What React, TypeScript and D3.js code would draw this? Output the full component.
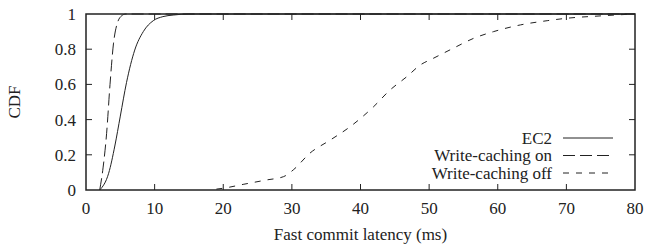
import { curveMonotoneX, line, scaleLinear } from "d3";
import React from "react";

// values
const ec2X = [2.0, 3.3, 4.2, 5.0, 5.9, 7.1, 8.35, 9.8, 11.2, 12.7, 15, 80];
const ec2Y = [0, 0.095, 0.25, 0.42, 0.61, 0.795, 0.9, 0.962, 0.985, 0.994, 1, 1];
const onX = [2.0, 2.5, 3.0, 3.5, 4.0, 4.5, 5.2, 5.8, 80];
const onY = [0, 0.13, 0.32, 0.6, 0.83, 0.94, 0.99, 1, 1];
const offX = [19, 20.0, 22.9, 26.3, 28.8, 30.2, 32.65, 35.6, 38.5, 41.9, 44.3, 46.75, 48.7, 50.6, 53.5, 56.5, 59.4, 63.3, 67.2, 70.1, 74.9, 79.8];
const offY = [0.005, 0.01, 0.032, 0.057, 0.076, 0.114, 0.21, 0.284, 0.36, 0.473, 0.568, 0.644, 0.71, 0.748, 0.805, 0.862, 0.9, 0.938, 0.962, 0.976, 0.989, 1.0];
const xTicks = [0, 10, 20, 30, 40, 50, 60, 70, 80];
const yTicks = [0, 0.2, 0.4, 0.6, 0.8, 1];
const legendNames = ["EC2", "Write-caching on", "Write-caching off"];

const width = 645;
const height = 244;
const margin = { top: 14, right: 10, bottom: 54, left: 86 };
const innerWidth = width - margin.left - margin.right;
const innerHeight = height - margin.top - margin.bottom;
const font = "Liberation Serif";
const fontSize = 17;

const x = scaleLinear().domain([0, 80]).range([0, innerWidth]);
const y = scaleLinear().domain([0, 1]).range([innerHeight, 0]);
const path = line<[number, number]>()
  .x((d) => x(d[0]))
  .y((d) => y(d[1]))
  .curve(curveMonotoneX);

const zip = (a: number[], b: number[]) => a.map((v, i) => [v, b[i]] as [number, number]);
const series = [
  { pts: zip(ec2X, ec2Y), dash: "none" },
  { pts: zip(onX, onY), dash: "12,5" },
  { pts: zip(offX, offY), dash: "6,7" },
];

export default function App() {
  const tick = 6;
  const txt = { fontFamily: font, fontSize };
  return (
    <div style={{ position: "absolute", left: 0, top: 0 }}>
      <svg width={width} height={height} style={{ display: "block", background: "white" }}>
        <g transform={`translate(${margin.left},${margin.top})`} fill="#222">
          {series.map((s, i) => (
            <path key={i} d={path(s.pts) ?? ""} fill="none" stroke="#222" strokeWidth={1} strokeDasharray={s.dash} />
          ))}
          {/* ticks, mirrored on all sides */}
          {xTicks.slice(1, -1).map((t) => (
            <g key={"x" + t} stroke="#222" strokeWidth={1}>
              <line x1={x(t)} x2={x(t)} y1={innerHeight} y2={innerHeight - tick} />
              <line x1={x(t)} x2={x(t)} y1={0} y2={tick} />
            </g>
          ))}
          {yTicks.slice(1, -1).map((t) => (
            <g key={"y" + t} stroke="#222" strokeWidth={1}>
              <line x1={0} x2={tick} y1={y(t)} y2={y(t)} />
              <line x1={innerWidth} x2={innerWidth - tick} y1={y(t)} y2={y(t)} />
            </g>
          ))}
          {xTicks.map((t) => (
            <text key={"xl" + t} x={x(t)} y={innerHeight + 24} textAnchor="middle" style={txt}>
              {t}
            </text>
          ))}
          {yTicks.map((t) => (
            <text key={"yl" + t} x={-10} y={y(t)} dy="0.35em" textAnchor="end" style={txt}>
              {t}
            </text>
          ))}
          <rect x={0} y={0} width={innerWidth} height={innerHeight} fill="none" stroke="#222" strokeWidth={1.5} />
          {legendNames.map((name, i) => {
            const ly = 138 + i * 17.5 - margin.top;
            return (
              <g key={name}>
                <text x={466} y={ly} dy="0.35em" textAnchor="end" style={txt}>
                  {name}
                </text>
                <line x1={477} x2={527} y1={ly} y2={ly} stroke="#222" strokeWidth={1} strokeDasharray={series[i].dash} />
              </g>
            );
          })}
          <text x={innerWidth / 2} y={innerHeight + 50} textAnchor="middle" style={txt}>
            Fast commit latency (ms)
          </text>
          <text transform={`translate(${14 - margin.left},${innerHeight / 2}) rotate(-90)`} dy="0.35em" textAnchor="middle" style={txt}>
            CDF
          </text>
        </g>
      </svg>
    </div>
  );
}
